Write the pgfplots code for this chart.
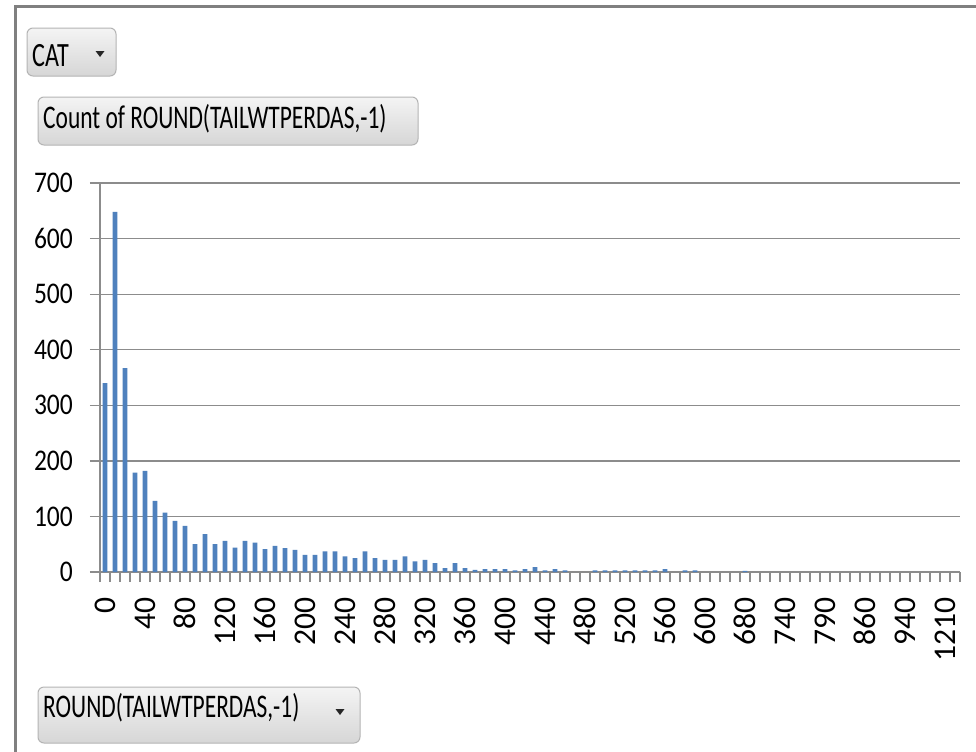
\documentclass[border=0pt]{standalone}
\usepackage{pgfplots}
\pgfplotsset{compat=1.18}
\usepackage{fontspec}
\setmainfont{Carlito}
\newfontfamily\btnfont[FakeStretch=0.71]{Carlito}
\newfontfamily\yfont[FakeStretch=0.85]{Carlito}
\definecolor{barblue}{HTML}{4F81BD}
\definecolor{gridgray}{HTML}{8C8C8C}
\definecolor{frame}{HTML}{808080}
\definecolor{btnborder}{HTML}{B4B4B4}
\definecolor{btntop}{HTML}{F4F4F4}
\definecolor{btnbot}{HTML}{D6D6D6}
\begin{document}
\begin{tikzpicture}
\path[use as bounding box, fill=white] (0,0) rectangle (976bp,-752bp);
% frame
\draw[frame, line width=3bp] (15.3bp,-6.5bp) -- (976bp,-6.5bp);
\draw[frame, line width=3bp] (15.3bp,-5bp) -- (15.3bp,-752bp);
% buttons
\draw[btnborder, line width=1bp, rounded corners=6bp, top color=btntop, bottom color=btnbot] (27bp,-28bp) rectangle (116bp,-76bp);
\node[anchor=base west, inner sep=0pt, font=\btnfont\fontsize{34bp}{34bp}\selectfont] at (32bp,-66bp) {CAT};
\fill[black!85] (95.5bp,-51bp) -- (104.5bp,-51bp) -- (100bp,-57bp) -- cycle;
\draw[btnborder, line width=1bp, rounded corners=6bp, top color=btntop, bottom color=btnbot] (38bp,-97bp) rectangle (418bp,-145bp);
\node[anchor=base west, inner sep=0pt, font=\btnfont\fontsize{33bp}{33bp}\selectfont] at (43bp,-128bp) {Count of ROUND(TAILWTPERDAS,-1)};
\draw[btnborder, line width=1bp, rounded corners=6bp, top color=btntop, bottom color=btnbot] (38bp,-687bp) rectangle (360bp,-743bp);
\node[anchor=base west, inner sep=0pt, font=\btnfont\fontsize{33bp}{33bp}\selectfont] at (43bp,-717bp) {ROUND(TAILWTPERDAS,-1)};
\fill[black!85] (335.5bp,-709bp) -- (344.5bp,-709bp) -- (340bp,-715bp) -- cycle;
\begin{axis}[
  at={(100bp,-572bp)}, anchor=south west,
  scale only axis, width=860bp, height=389bp,
  xmin=-0.5, xmax=85.5, ymin=0, ymax=700,
  axis lines*=left,
  axis line style={gridgray, line width=1.3bp},
  ymajorgrids, grid style={gridgray, line width=1.3bp},
  tick align=outside, major tick length=10bp,
  tick style={gridgray, line width=1.3bp},
  ytick={0,100,...,700},
  /pgf/number format/assume math mode=true,
  yticklabel style={font=\yfont\fontsize{30bp}{30bp}\selectfont, inner sep=0pt, anchor=east, xshift=-17bp},
  xtick={-0.5,0.5,...,85.5},
  xticklabels={},
  extra x ticks={0,4,...,84},
  extra x tick labels={0,40,80,120,160,200,240,280,320,360,400,440,480,520,560,600,680,740,790,860,940,1210},
  extra x tick style={tick style={draw=none}},
  xticklabel style={font=\fontsize{31.6bp}{32bp}\selectfont, rotate=90, anchor=east, inner sep=0pt, xshift=-15bp},
  ybar, bar width=4.7bp, bar shift=0pt,
]
\addplot[fill=barblue, draw=none] coordinates {
(0,340) (1,648) (2,367) (3,179) (4,182) (5,128) (6,107) (7,92) (8,83) (9,50)
(10,68) (11,50) (12,56) (13,44) (14,56) (15,53) (16,41) (17,47) (18,43) (19,40)
(20,31) (21,31) (22,37) (23,37) (24,28) (25,25) (26,37) (27,25) (28,22) (29,22)
(30,28) (31,19) (32,22) (33,16) (34,7) (35,16) (36,7) (37,4) (38,5) (39,5)
(40,5) (41,3) (42,5) (43,9) (44,3) (45,5) (46,3) (49,3)
(50,3) (51,3) (52,3) (53,3) (54,3) (55,3) (56,5) (58,3) (59,3)
(64,2)
};
\end{axis}
\end{tikzpicture}
\end{document}
